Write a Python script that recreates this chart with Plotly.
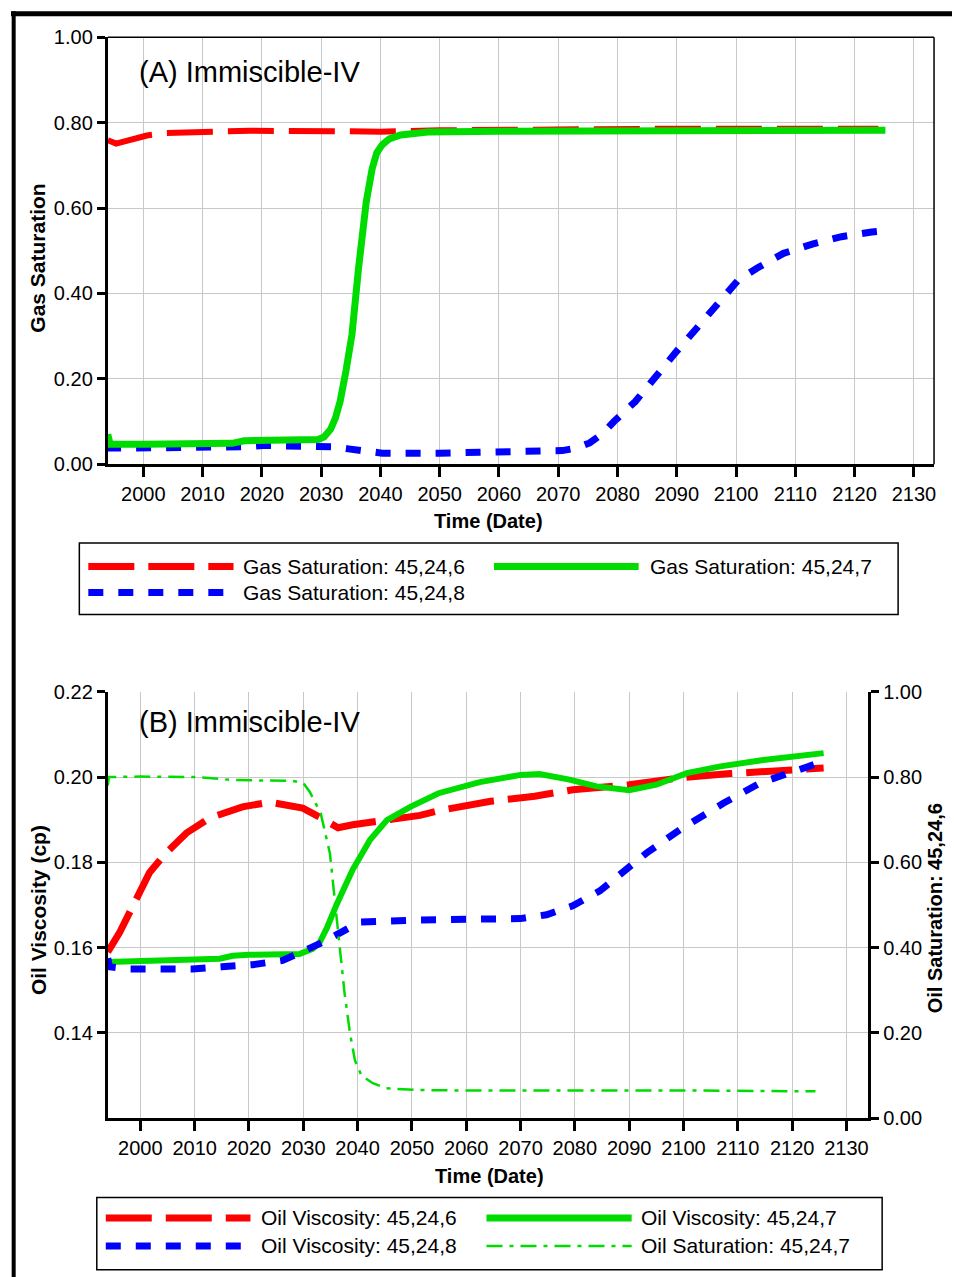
import plotly.graph_objects as go

# ---------------- DATA ----------------
# Panel A : Gas saturation
a_red_years = [1994.0, 1994.7, 1995.4, 1997, 1999, 2000.6, 2003.9, 2009.5, 2018, 2032, 2040, 2050, 2070, 2090, 2110, 2124]
a_red_vals = [0.759, 0.753, 0.751, 0.757, 0.765, 0.770, 0.776, 0.779, 0.781, 0.780, 0.779, 0.782, 0.785, 0.786, 0.786, 0.786]

a_green_years = [1994.0, 1994.4, 2000, 2010, 2015, 2017, 2020, 2025, 2029.5, 2030.5, 2031.6, 2032.4, 2033.2,
                 2034.2, 2035.2, 2036.3, 2037.6, 2038.6, 2039.4, 2040.3, 2041.5, 2043.4, 2048, 2060, 2080, 2100, 2125.2]
a_green_vals = [0.070, 0.047, 0.047, 0.048, 0.049, 0.055, 0.056, 0.057, 0.058, 0.064, 0.082, 0.108, 0.147,
                0.220, 0.304, 0.458, 0.614, 0.692, 0.730, 0.748, 0.762, 0.771, 0.778, 0.780, 0.781, 0.781, 0.782]

a_blue_years = [1994.0, 1994.3, 1998, 2005, 2014.5, 2017, 2020.2, 2029.4, 2032, 2034.6, 2037.5, 2040.3, 2050,
                2055.3, 2060.4, 2070.7, 2073, 2075.3, 2077.5, 2079.4, 2083, 2086, 2090, 2095, 2100.4, 2103.5,
                2108, 2113, 2117.8, 2122.9, 2124.5]
a_blue_vals = [0.045, 0.038, 0.038, 0.038, 0.038, 0.041, 0.044, 0.044, 0.041, 0.036, 0.030, 0.026, 0.026,
               0.028, 0.031, 0.032, 0.038, 0.050, 0.072, 0.100, 0.147, 0.200, 0.265, 0.345, 0.432, 0.459,
               0.494, 0.516, 0.533, 0.544, 0.546]

# Panel B : Oil viscosity (left) and oil saturation (right)
b_red_years = [1994.0, 1996.2, 1998.6, 2001.7, 2004.8, 2008.5, 2012.8, 2018.8, 2023.8, 2026.9, 2029.9, 2033,
               2034.8, 2036.4, 2039.1, 2045.4, 2051.5, 2055.3, 2064.5, 2072.6, 2079.6, 2090, 2099.4, 2108.6,
               2116.6, 2125.8]
b_red_vals = [0.1590, 0.1636, 0.1697, 0.1776, 0.1823, 0.1869, 0.1904, 0.1930, 0.1941, 0.1934, 0.1927, 0.1906,
              0.1892, 0.1881, 0.1888, 0.1899, 0.1910, 0.1922, 0.1943, 0.1955, 0.1970, 0.1982, 0.1998, 0.2008,
              0.2013, 0.2021]

b_green_years = [1994.0, 2000, 2010, 2014.6, 2017, 2020, 2029.3, 2031.7, 2033.0, 2034.3, 2036.1, 2039.1, 2042.3,
                 2045.4, 2049.7, 2054.9, 2062.5, 2070, 2073.5, 2079, 2084, 2090, 2095, 2100.6, 2106.8, 2114.7, 2125.8]
b_green_vals = [0.1566, 0.1568, 0.1571, 0.1574, 0.1581, 0.1583, 0.1585, 0.1597, 0.1612, 0.1645, 0.1700, 0.1783,
                0.1853, 0.1899, 0.1930, 0.1962, 0.1988, 0.2005, 0.2007, 0.1994, 0.1978, 0.1969, 0.1982, 0.2009,
                0.2025, 0.2040, 0.2056]

b_blue_years = [1994.0, 1994.3, 1998, 2009.6, 2015, 2020.7, 2026.2, 2031.2, 2033.5, 2035.4, 2037.0, 2040.4,
                2051.5, 2062.5, 2070, 2074.8, 2079.6, 2084.6, 2088.9, 2093.2, 2099.4, 2107.4, 2114.1, 2117.8,
                2122.7, 2124]
b_blue_vals = [0.1575, 0.1555, 0.1550, 0.1550, 0.1555, 0.1560, 0.1570, 0.1597, 0.1612, 0.1625, 0.1636, 0.1660,
               0.1665, 0.1667, 0.1668, 0.1677, 0.1698, 0.1733, 0.1776, 0.1822, 0.1877, 0.1939, 0.1986, 0.2001,
               0.2025, 0.2029]

b_sat_years = [1994.0, 1994.2, 2000, 2010.4, 2017, 2028, 2030, 2031.2, 2033.2, 2034.9, 2035.8, 2036.7, 2037.6,
               2038.6, 2039.5, 2040.7, 2042.8, 2045.3, 2051.5, 2060, 2080, 2100, 2124.3]
b_sat_vals = [0.780, 0.800, 0.801, 0.800, 0.793, 0.791, 0.786, 0.765, 0.715, 0.621, 0.511, 0.401, 0.293,
              0.199, 0.136, 0.100, 0.082, 0.070, 0.066, 0.065, 0.065, 0.065, 0.063]

x_ticks = list(range(2000, 2131, 10))
a_y_ticks = [0.0, 0.2, 0.4, 0.6, 0.8, 1.0]
b_y_ticks = [0.14, 0.16, 0.18, 0.20, 0.22]
b_y2_ticks = [0.0, 0.2, 0.4, 0.6, 0.8, 1.0]

a_legend = ["Gas Saturation: 45,24,6", "Gas Saturation: 45,24,7", "Gas Saturation: 45,24,8"]
b_legend = ["Oil Viscosity: 45,24,6", "Oil Viscosity: 45,24,7", "Oil Viscosity: 45,24,8", "Oil Saturation: 45,24,7"]

# ---------------- STYLE ----------------
W, H = 954, 1277
RED = "#FF0000"
GREEN = "#00DC00"
BLUE = "#0000FF"
FONT = "Liberation Sans, Arial, sans-serif"
GRID = "#C8C8C8"

def X(px):
    return px / W

def Y(py):
    # vertical position compensation measured from the rendered page
    p = py / 0.9851 - 8.8
    return 1 - p / H

fig = go.Figure()

# Panel A traces
fig.add_trace(go.Scatter(x=a_red_years, y=a_red_vals, mode="lines", xaxis="x", yaxis="y",
                         line=dict(color=RED, width=6, dash="46px,15px"), name=a_legend[0]))
fig.add_trace(go.Scatter(x=a_blue_years, y=a_blue_vals, mode="lines", xaxis="x", yaxis="y",
                         line=dict(color=BLUE, width=7, dash="15px,15px"), name=a_legend[2]))
fig.add_trace(go.Scatter(x=a_green_years, y=a_green_vals, mode="lines", xaxis="x", yaxis="y",
                         line=dict(color=GREEN, width=7), name=a_legend[1]))

# Panel B traces
fig.add_trace(go.Scatter(x=b_sat_years, y=b_sat_vals, mode="lines", xaxis="x2", yaxis="y3",
                         line=dict(color=GREEN, width=2.5, dash="16px,7px,4px,7px"), name=b_legend[3]))
fig.add_trace(go.Scatter(x=b_red_years, y=b_red_vals, mode="lines", xaxis="x2", yaxis="y2",
                         line=dict(color=RED, width=7, dash="46px,14px"), name=b_legend[0]))
fig.add_trace(go.Scatter(x=b_green_years, y=b_green_vals, mode="lines", xaxis="x2", yaxis="y2",
                         line=dict(color=GREEN, width=6), name=b_legend[1]))
fig.add_trace(go.Scatter(x=b_blue_years, y=b_blue_vals, mode="lines", xaxis="x2", yaxis="y2",
                         line=dict(color=BLUE, width=7, dash="15px,15px"), name=b_legend[2]))

tickfont = dict(family=FONT, size=20, color="black")

axis_common = dict(showline=True, linecolor="black", linewidth=3, ticks="outside", tickcolor="black",
                   tickwidth=2.5, showgrid=True, gridcolor=GRID, gridwidth=1, zeroline=False,
                   tickfont=tickfont)

fig.update_layout(
    width=W, height=H, margin=dict(l=0, r=0, t=0, b=0),
    paper_bgcolor="white", plot_bgcolor="white", showlegend=False,
    xaxis=dict(domain=[X(108), X(936)], range=[1994, 2133.4], anchor="y",
               tickvals=x_ticks, ticklen=10, **axis_common),
    yaxis=dict(domain=[Y(463), Y(35)], range=[0, 1], anchor="x",
               tickvals=a_y_ticks, tickformat=".2f", ticklen=8, **axis_common),
    xaxis2=dict(domain=[X(108), X(870)], range=[1994, 2134], anchor="y2",
                tickvals=x_ticks, ticklen=10, **axis_common),
    yaxis2=dict(domain=[Y(1118.5), Y(691)], range=[0.12, 0.22], anchor="x2",
                tickvals=b_y_ticks, tickformat=".2f", ticklen=8, **axis_common),
    yaxis3=dict(overlaying="y2", side="right", anchor="x2", range=[0, 1],
                tickvals=b_y2_ticks, tickformat=".2f", ticklen=8,
                showline=True, linecolor="black", linewidth=3, ticks="outside", tickcolor="black",
                tickwidth=2.5, showgrid=False, zeroline=False, tickfont=tickfont),
)

shapes = []
# outer frame (top and left)
shapes.append(dict(type="line", xref="paper", yref="paper", x0=X(11), x1=X(954), y0=Y(11.5), y1=Y(11.5),
                   line=dict(color="black", width=5)))
shapes.append(dict(type="line", xref="paper", yref="paper", x0=X(13.7), x1=X(13.7), y0=Y(9), y1=Y(1300),
                   line=dict(color="black", width=4)))
# panel A top/right border
shapes.append(dict(type="line", xref="paper", yref="paper", x0=X(108), x1=X(936), y0=Y(35), y1=Y(35),
                   line=dict(color="black", width=1.5)))
shapes.append(dict(type="line", xref="paper", yref="paper", x0=X(936), x1=X(936), y0=Y(35), y1=Y(463),
                   line=dict(color="black", width=1.5)))

# legend boxes
shapes.append(dict(type="rect", xref="paper", yref="paper", x0=X(79.5), x1=X(900), y0=Y(542), y1=Y(613.5),
                   line=dict(color="black", width=1.5), fillcolor="white", layer="below"))
shapes.append(dict(type="rect", xref="paper", yref="paper", x0=X(97), x1=X(884), y0=Y(1198), y1=Y(1270.5),
                   line=dict(color="black", width=1.5), fillcolor="white", layer="below"))

annotations = []

def legend_item(x0, x1, y, color, width, dash, text, tx):
    shapes.append(dict(type="line", xref="paper", yref="paper", x0=X(x0), x1=X(x1), y0=Y(y), y1=Y(y),
                       line=dict(color=color, width=width, dash=dash)))
    annotations.append(dict(xref="paper", yref="paper", x=X(tx), y=Y(y), text=text, showarrow=False,
                            xanchor="left", yanchor="middle",
                            font=dict(family=FONT, size=21, color="black")))

legend_item(88.5, 234, 565.5, RED, 7, "46px,14px", a_legend[0], 242)
legend_item(495, 640, 565.5, GREEN, 7, "solid", a_legend[1], 649)
legend_item(88.5, 234, 591.5, BLUE, 7, "15px,15px", a_legend[2], 242)

legend_item(106, 251, 1218.5, RED, 7, "46px,14px", b_legend[0], 260)
legend_item(487.5, 633, 1218.5, GREEN, 7, "solid", b_legend[1], 640)
legend_item(106, 251, 1246.5, BLUE, 7, "15px,15px", b_legend[2], 260)
legend_item(487.5, 633, 1246.5, GREEN, 2.5, "16px,7px,4px,7px", b_legend[3], 640)

# panel labels
annotations.append(dict(xref="paper", yref="paper", x=X(137), y=Y(70), text="(A) Immiscible-IV",
                        showarrow=False, xanchor="left", yanchor="middle",
                        font=dict(family=FONT, size=29, color="black")))
annotations.append(dict(xref="paper", yref="paper", x=X(137), y=Y(721), text="(B) Immiscible-IV",
                        showarrow=False, xanchor="left", yanchor="middle",
                        font=dict(family=FONT, size=29, color="black")))

# axis titles
title_font = dict(family=FONT, size=20, color="black")
vtitle_font = dict(family=FONT, size=21, color="black")
annotations.append(dict(xref="paper", yref="paper", x=X(490), y=Y(520), text="<b>Time (Date)</b>",
                        showarrow=False, xanchor="center", yanchor="middle", font=title_font))
annotations.append(dict(xref="paper", yref="paper", x=X(491), y=Y(1176), text="<b>Time (Date)</b>",
                        showarrow=False, xanchor="center", yanchor="middle", font=title_font))
annotations.append(dict(xref="paper", yref="paper", x=X(38), y=Y(256), text="<b>Gas Saturation</b>",
                        showarrow=False, xanchor="center", yanchor="middle", textangle=-90, font=vtitle_font))
annotations.append(dict(xref="paper", yref="paper", x=X(38), y=Y(910), text="<b>Oil Viscosity (cp)</b>",
                        showarrow=False, xanchor="center", yanchor="middle", textangle=-90, font=vtitle_font))
annotations.append(dict(xref="paper", yref="paper", x=X(937), y=Y(908), text="<b>Oil Saturation: 45,24,6</b>",
                        showarrow=False, xanchor="center", yanchor="middle", textangle=-90, font=title_font))

fig.update_layout(shapes=shapes, annotations=annotations)

fig.write_html("out.html")
